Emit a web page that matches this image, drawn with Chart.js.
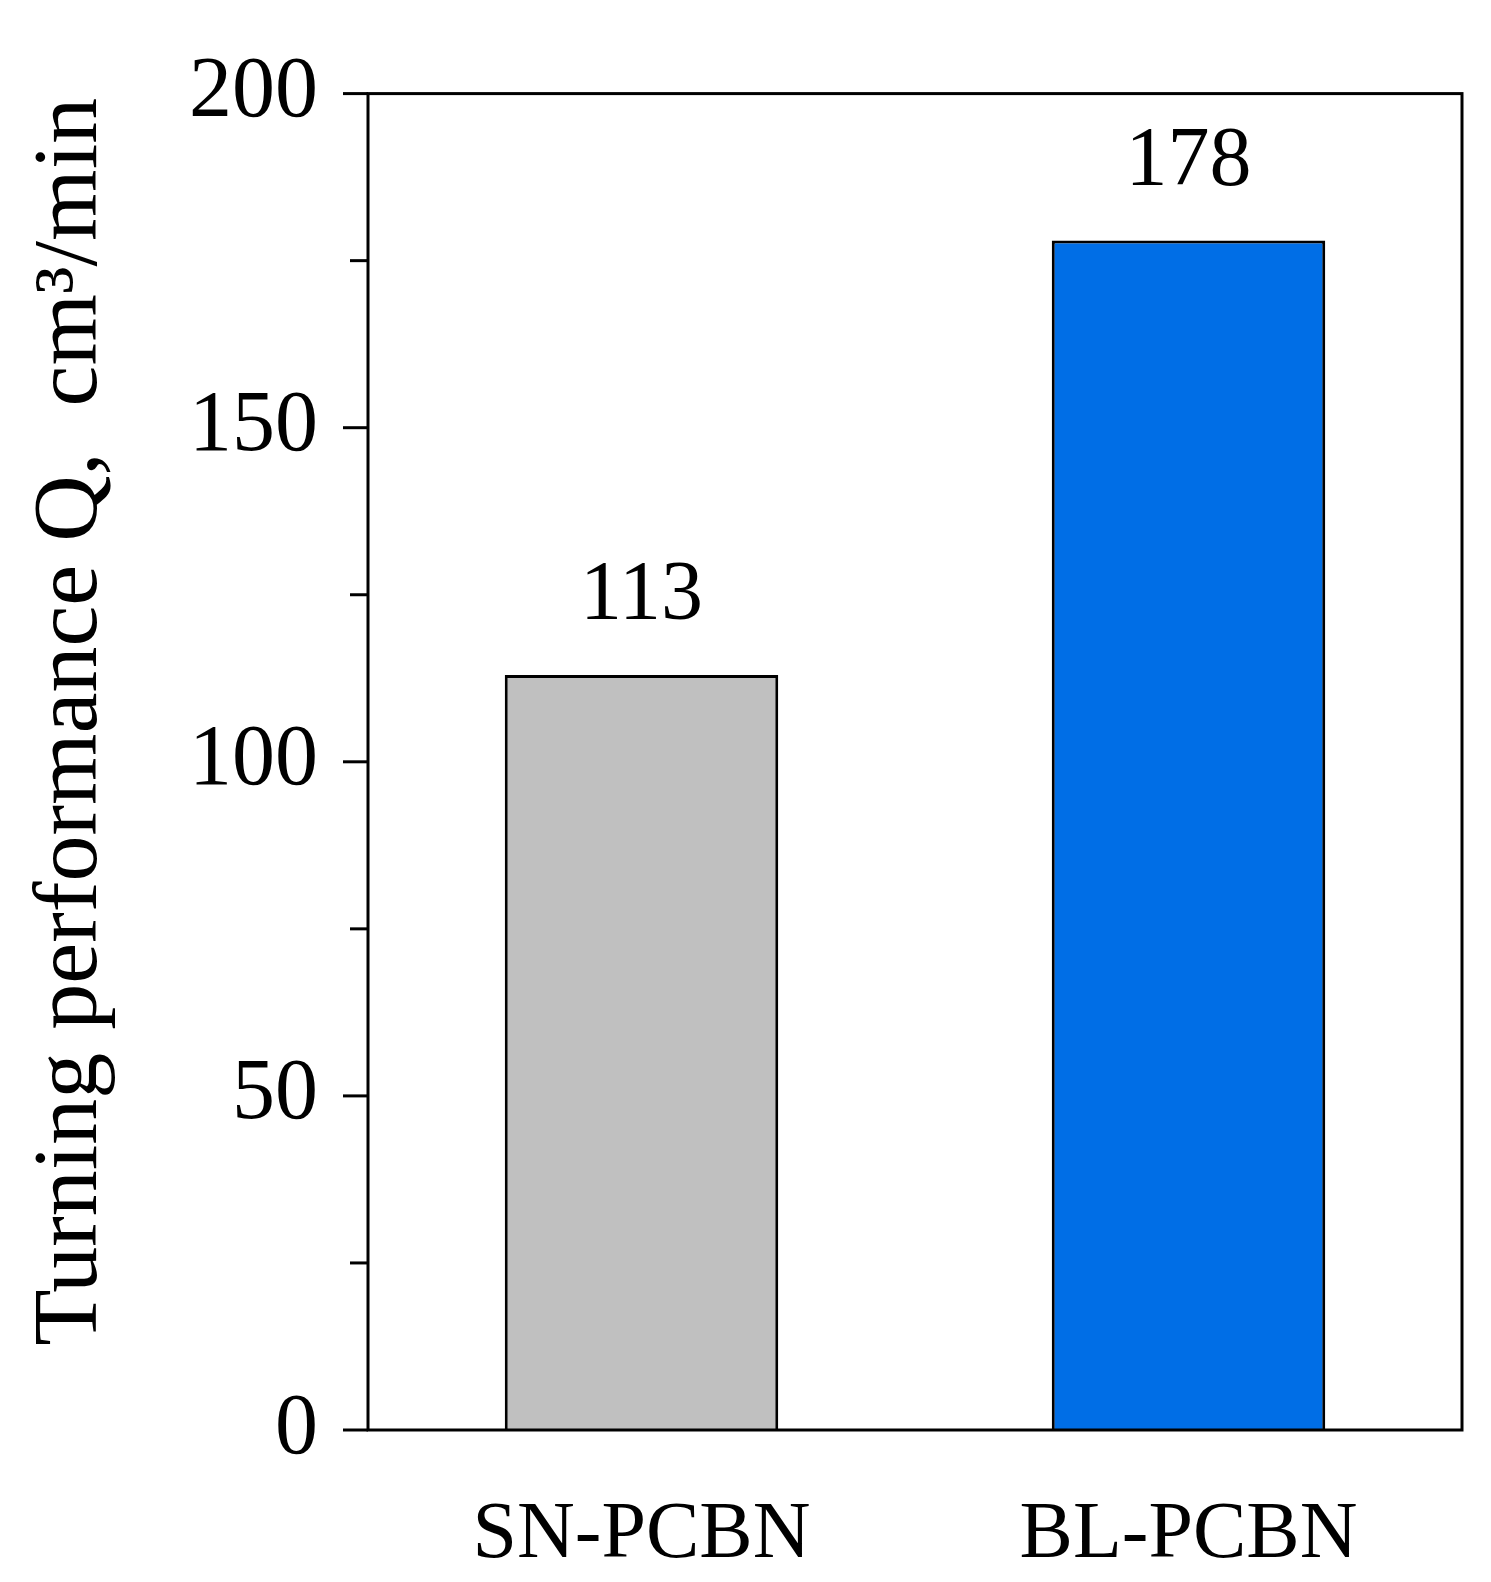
<!DOCTYPE html>
<html><head><meta charset="utf-8">
<script src="https://cdn.jsdelivr.net/npm/chart.js@4"></script>
<style>html,body{margin:0;padding:0;background:#fff;overflow:hidden}</style>
</head><body>
<div style="width:1491px;height:1582px"><canvas id="c"></canvas></div>
<script>
var categories = ['SN-PCBN', 'BL-PCBN'];
var values = [113, 178];
var barColors = ['#c0c0c0', '#006ee6'];
var yTicks = [0, 50, 100, 150, 200];
var yTitle = 'Turning performance Q,  cm\u00b3/min';
var FONT = '"Liberation Serif", "DejaVu Serif", serif';

// frame, ticks, value labels, y title
var extras = {
  id: 'extras',
  afterDraw: function (chart) {
    var ctx = chart.ctx, a = chart.chartArea, y = chart.scales.y;
    ctx.save();
    ctx.strokeStyle = '#000';
    ctx.lineWidth = 3;
    ctx.strokeRect(a.left, a.top, a.right - a.left, a.bottom - a.top);
    for (var v = 0; v <= 200; v += 25) {
      var py = y.getPixelForValue(v);
      var len = v % 50 === 0 ? 25 : 18;
      ctx.beginPath(); ctx.moveTo(a.left - len, py); ctx.lineTo(a.left, py); ctx.stroke();
    }
    var meta = chart.getDatasetMeta(0);
    ctx.fillStyle = '#000';
    ctx.font = '84px ' + FONT;
    ctx.textAlign = 'center';
    ctx.textBaseline = 'bottom';
    meta.data.forEach(function (bar, i) {
      ctx.fillText(String(values[i]), bar.x, bar.y - 36);
    });
    ctx.translate(72, (a.top + a.bottom) / 2 - 40);
    ctx.rotate(-Math.PI / 2);
    ctx.textBaseline = 'middle';
    ctx.font = '92px ' + FONT;
    ctx.fillText(yTitle, 0, 0);
    ctx.restore();
  }
};

new Chart(document.getElementById('c'), {
  type: 'bar',
  data: {
    labels: categories,
    datasets: [{
      data: values,
      backgroundColor: barColors,
      borderColor: '#000',
      borderWidth: 3,
      barPercentage: 0.5,
      categoryPercentage: 1
    }]
  },
  options: {
    responsive: true,
    maintainAspectRatio: false,
    animation: false,
    layout: { padding: { top: 40, right: 29 } },
    plugins: { legend: { display: false }, tooltip: { enabled: false } },
    scales: {
      x: {
        grid: { display: false },
        border: { display: false },
        ticks: { color: '#000', font: { family: FONT, size: 80 }, padding: 50 },
        afterFit: function (s) { s.height = 152; }
      },
      y: {
        min: 0, max: 200,
        afterBuildTicks: function (s) { s.ticks = yTicks.map(function (v) { return { value: v }; }); },
        grid: { display: false },
        border: { display: false },
        ticks: { color: '#000', font: { family: FONT, size: 86 }, padding: 42 },
        afterFit: function (s) { s.width = 368; }
      }
    }
  },
  plugins: [extras]
});
</script>
</body></html>
